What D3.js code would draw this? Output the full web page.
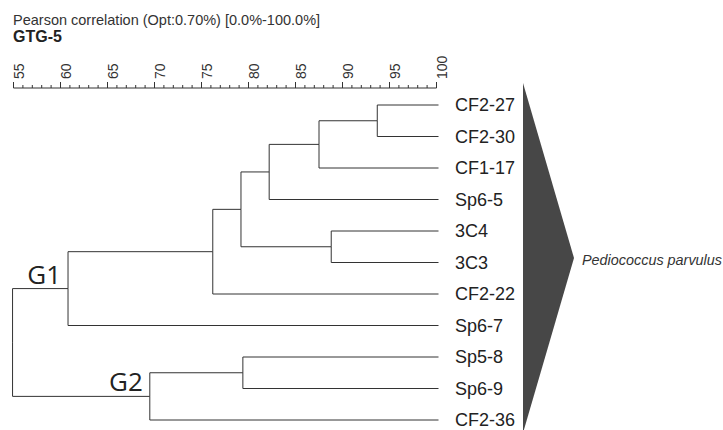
<!DOCTYPE html>
<html>
<head>
<meta charset="utf-8">
<script src="https://cdn.jsdelivr.net/npm/d3@7"></script>
<style>
    body { margin: 0; background: #fff; }
    svg { display: block; font-family: "Liberation Sans", Arial, sans-serif; }
</style>
</head>
<body>
<svg id="chart" width="723" height="430"></svg>
<script>
// leaf order, top to bottom
const leaves = ["CF2-27", "CF2-30", "CF1-17", "Sp6-5", "3C4", "3C3", "CF2-22", "Sp6-7", "Sp5-8", "Sp6-9", "CF2-36"];
// merges: [child a, child b, similarity %]; node ids continue after the leaves (11, 12, ...)
const merges = [
    [0, 1, 93.7],
    [11, 2, 87.5],
    [12, 3, 82.2],
    [4, 5, 88.8],
    [13, 14, 79.2],
    [15, 6, 76.2],
    [16, 7, 60.8],
    [8, 9, 79.4],
    [18, 10, 69.5],
    [17, 19, 54.9]
];
const groupLabels = [["G1", 17], ["G2", 19]];
const axisTicks = [55, 60, 65, 70, 75, 80, 85, 90, 95, 100];
const title = "Pearson correlation (Opt:0.70%) [0.0%-100.0%]";
const subtitle = "GTG-5";
const species = "Pediococcus parvulus";

const svg = d3.select("#chart");
const ink = "#333";

const x = d3.scaleLinear().domain([55, 100]).range([13.5, 436.5]);
const y = d3.scalePoint().domain(leaves).range([105, 420]);
const axisY = 88;

// node positions
const nodes = leaves.map(name => ({ name, value: 100, y: y(name) }));
merges.forEach(([a, b, v]) => {
    nodes.push({ a, b, value: v, y: (nodes[a].y + nodes[b].y) / 2 });
});

// header
svg.append("text").attr("x", 13).attr("y", 25)
    .style("font-size", "14.5px").attr("fill", ink).text(title);
svg.append("text").attr("x", 13).attr("y", 42)
    .style("font-size", "16px").style("font-weight", "bold").attr("fill", "#222").text(subtitle);

// axis
const axis = svg.append("g");
axis.append("line")
    .attr("x1", x(55)).attr("x2", x(100))
    .attr("y1", axisY).attr("y2", axisY)
    .attr("stroke", ink).attr("stroke-width", 1);
axis.selectAll(".minor")
    .data(d3.range(55, 101))
    .enter().append("line")
    .attr("x1", d => x(d)).attr("x2", d => x(d))
    .attr("y1", axisY)
    .attr("y2", d => axisY - (d % 5 === 0 ? 6 : 3))
    .attr("stroke", ink).attr("stroke-width", 1);
axis.selectAll(".lbl")
    .data(axisTicks)
    .enter().append("text")
    .attr("transform", d => `translate(${x(d) + 10},79) rotate(-90)`)
    .style("font-size", "14px")
    .attr("fill", ink)
    .text(d => d);

// dendrogram links
const links = svg.append("g")
    .attr("fill", "none")
    .attr("stroke", ink)
    .attr("stroke-width", 1);
nodes.forEach(n => {
    if (n.a === undefined) return;
    const xa = x(n.value);
    [nodes[n.a], nodes[n.b]].forEach(c => {
        links.append("path")
            .attr("d", `M${xa},${n.y}V${c.y}H${x(c.value) + (c.a === undefined ? 2 : 0)}`);
    });
});
// root stub
const root = nodes[nodes.length - 1];
links.append("path").attr("d", `M${x(55) - 1.5},${root.y}H${x(root.value)}`);

// group labels
svg.selectAll(".grp")
    .data(groupLabels)
    .enter().append("text")
    .attr("x", d => x(nodes[d[1]].value) - 7)
    .attr("y", d => nodes[d[1]].y - 5)
    .attr("text-anchor", "end")
    .style("font-family", "'Open Sans', 'Noto Sans', sans-serif")
    .style("font-size", "26px")
    .attr("fill", "#222")
    .text(d => d[0]);

// leaf labels
svg.selectAll(".leaf")
    .data(leaves)
    .enter().append("text")
    .attr("x", 455)
    .attr("y", d => y(d))
    .attr("dominant-baseline", "central")
    .style("font-size", "18px")
    .attr("fill", "#222")
    .text(d => d);

// cluster triangle
const triTop = y(leaves[0]) - 22, triBottom = y(leaves[leaves.length - 1]) + 13;
const triMid = (triTop + triBottom) / 2;
svg.append("path")
    .attr("d", `M523,${triTop}L574,${triMid}L523,${triBottom}Z`)
    .attr("fill", "#474747");

svg.append("text")
    .attr("x", 582)
    .attr("y", triMid + 2)
    .attr("dominant-baseline", "central")
    .style("font-size", "14.4px")
    .style("font-style", "italic")
    .attr("fill", ink)
    .text(species);
</script>
</body>
</html>
